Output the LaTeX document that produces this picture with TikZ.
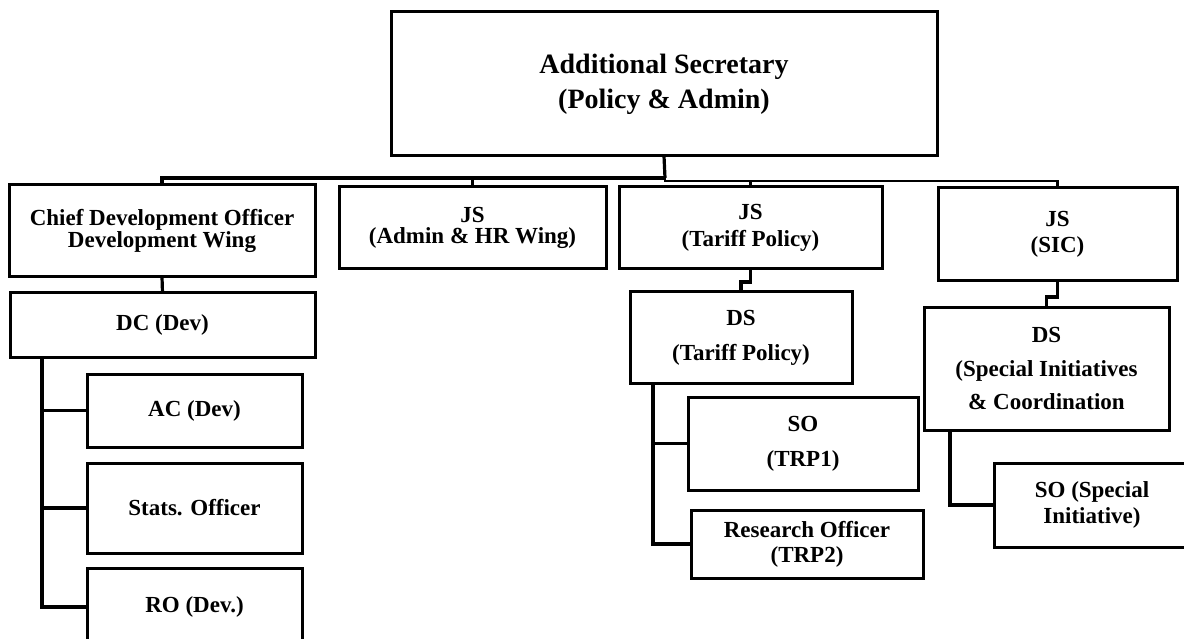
\documentclass[tikz,border=0pt]{standalone}
\usepackage{fontspec}
\setmainfont{Liberation Serif}
\begin{document}
\begin{tikzpicture}[x=1pt,y=-1pt,
  box/.style={draw, line width=3pt, rectangle, inner sep=0pt, outer sep=0pt,
    anchor=north west, align=center, font=\bfseries\fontsize{23}{#1}\selectfont},
  box/.default=26,
  link/.style={line width=3.2pt, line join=miter},
  thinlink/.style={line width=2.2pt, line join=miter}]
\useasboundingbox (0,0) rectangle (1184,639);
\fill[white] (0,0) rectangle (1184,639);
\clip (0,0) rectangle (1184,639);

% head of the wing
\node[box=35, font=\bfseries\fontsize{28}{35}\selectfont, minimum width=546, minimum height=144]
  (as) at (391,12) {Additional Secretary\\(Policy \& Admin)};

% joint secretaries and development wing
\node[box=22, minimum width=306, minimum height=92] (cdo) at (9,185)
  {Chief Development Officer\\Development Wing};
\node[box=21.5, minimum width=267, minimum height=82] (jsa) at (339,187)
  {JS\\(Admin \& HR Wing)};
\node[box=27, minimum width=263, minimum height=82] (jst) at (619,187)
  {JS\\(Tariff Policy)};
\node[box=26, minimum width=239, minimum height=93] (jss) at (938,188)
  {JS\\(SIC)};

% development column
\node[box, minimum width=305, minimum height=64] (dc) at (10,293) {DC (Dev)};
\node[box, minimum width=215, minimum height=73] (ac) at (87,374) {AC (Dev)};
\node[box, minimum width=215, minimum height=90] (stat) at (87,463) {Stats. Officer};
\node[box, minimum width=215, minimum height=78] (ro) at (87,568) {RO (Dev.)};

% tariff policy column
\node[box=35, minimum width=222, minimum height=91] (dst) at (630,292)
  {DS\\(Tariff Policy)};
\node[box=35, minimum width=230, minimum height=93] (trp1) at (688,397)
  {SO\\(TRP1)};
\node[box=25, minimum width=232, minimum height=68] (trp2) at (691,510)
  {Research Officer\\(TRP2)};

% special initiatives column
\node[box=33.5, minimum width=245, minimum height=123] (dss) at (924,307)
  {DS\\(Special Initiatives\\\& Coordination};
\node[box=26, minimum width=196, minimum height=84] (sos) at (994,463)
  {SO (Special\\Initiative)};

% main bus
\coordinate (busL) at (665,178);
\coordinate (busR) at (665,181);
\draw[link] (as.south) -- (busL);
\draw[link] (cdo.north) |- (busL);
\draw[link] (jsa.north) -- (jsa.north |- busL);
\draw[thinlink] (busL) -- (busR) -| (jss.north);
\draw[thinlink] (jst.north) -- (jst.north |- busR);

% development wing links
\draw[link] (cdo.south) -- (dc.north);
\coordinate (dcT) at (42,357);
\draw[link] (dcT) |- (ac.west);
\draw[link] (dcT) |- (stat.west);
\draw[link] (dcT) |- (ro.west);

% tariff policy links
\draw[link] (jst.south) -- ++(0,13) -| (dst.north);
\coordinate (dstT) at (653,383);
\draw[link] (dstT) |- (trp1.west);
\draw[link] (dstT) |- (trp2.west);

% special initiatives links
\draw[link] (jss.south) -- ++(0,16) -| (dss.north);
\coordinate (dssT) at (950,430);
\draw[link] (dssT) |- (sos.west);
\end{tikzpicture}
\end{document}
